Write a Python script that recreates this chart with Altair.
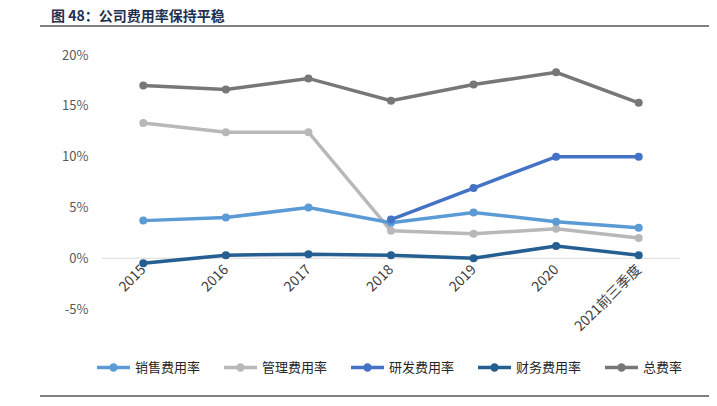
import altair as alt
import pandas as pd

FONT = "Noto Sans CJK SC"

years = ["2015", "2016", "2017", "2018", "2019", "2020", "2021前三季度"]
sales = [3.7, 4.0, 5.0, 3.5, 4.5, 3.6, 3.0]
admin = [13.3, 12.4, 12.4, 2.7, 2.4, 2.9, 2.0]
rd_years = ["2018", "2019", "2020", "2021前三季度"]
rd = [3.8, 6.9, 10.0, 10.0]
fin = [-0.5, 0.3, 0.4, 0.3, 0.0, 1.2, 0.3]
total = [17.0, 16.6, 17.7, 15.5, 17.1, 18.3, 15.3]

series = ["销售费用率", "管理费用率", "研发费用率", "财务费用率", "总费率"]
colors = ["#5B9BD5", "#B8B8B8", "#4472C4", "#255E91", "#777777"]
y_ticks = [-5, 0, 5, 10, 15, 20]
title_text = "图 48：公司费用率保持平稳"
source_text = "资料来源：wind，信达证券研发中心"

rows = []
for name, xs, vals in [
    ("总费率", years, total),
    ("管理费用率", years, admin),
    ("销售费用率", years, sales),
    ("财务费用率", years, fin),
    ("研发费用率", rd_years, rd),
]:
    for yr, v in zip(xs, vals):
        rows.append({"year": yr, "series": name, "value": v})
df = pd.DataFrame(rows)

# plot area spans from just under the header to the -5% level;
# the scale's top is extended so the header strip sits inside it
W, H = 578, 289
Y_MIN, Y_MAX = -5, 23.45

LEGEND_PATH = ("M-1,0 L1,0 "
               "M-0.15,0 A0.15,0.15 0 1,1 0.15,0 A0.15,0.15 0 1,1 -0.15,0 "
               "M-0.05,0 A0.05,0.05 0 1,1 0.05,0 A0.05,0.05 0 1,1 -0.05,0")

x_enc = alt.X(
    "year:N", sort=years,
    scale=alt.Scale(type="point", padding=0.5),
    axis=alt.Axis(title=None, labelAngle=-45, labelAlign="right", labelBaseline="middle",
                  offset=-H * (0 - Y_MIN) / (Y_MAX - Y_MIN), domain=False, ticks=False, grid=False,
                  labelPadding=9, labelFontSize=14, labelColor="#404040", labelFont=FONT),
)
y_enc = alt.Y(
    "value:Q",
    scale=alt.Scale(domain=[Y_MIN, Y_MAX], nice=False, zero=False),
    axis=alt.Axis(title=None, values=y_ticks, labelExpr="datum.value + '%'", domain=False,
                  ticks=False, grid=False, labelPadding=14, labelFontSize=13,
                  labelColor="#595959", labelFont=FONT),
)
color_enc = alt.Color(
    "series:N", sort=series,
    scale=alt.Scale(domain=series, range=colors),
    legend=alt.Legend(title=None, orient="none", legendX=-7, legendY=329, direction="horizontal",
                      columns=5, symbolType=LEGEND_PATH, symbolSize=1089, symbolStrokeWidth=3.5,
                      labelFontSize=13, labelColor="#262626", labelFont=FONT, labelOffset=3,
                      columnPadding=16, labelLimit=0, padding=0),
)

one = pd.DataFrame({"t": [title_text], "s": [source_text]})

zero_rule = alt.Chart(one).mark_rule(color="#D9D9D9", strokeWidth=1).encode(
    y=alt.datum(0), x=alt.value(0), x2=alt.value(W)
)

lines = alt.Chart(df).mark_line(
    strokeWidth=3.5, point=alt.OverlayMarkDef(filled=True, size=64)
).encode(x=x_enc, y=y_enc, color=color_enc)

title = alt.Chart(one).mark_text(
    align="left", baseline="alphabetic", font=FONT, fontSize=14, fontWeight="bold", color="#1F3050"
).encode(text="t:N", x=alt.value(-51), y=alt.value(1))

title_rule = alt.Chart(one).mark_rect(color="#7F7F7F").encode(
    x=alt.value(-62), x2=alt.value(620), y=alt.value(5), y2=alt.value(7)
)

bottom_rule = alt.Chart(one).mark_rect(color="#7F7F7F").encode(
    x=alt.value(-62), x2=alt.value(620), y=alt.value(375), y2=alt.value(377)
)

source = alt.Chart(one).mark_text(
    align="left", baseline="alphabetic", font=FONT, fontSize=12, fontStyle="italic", color="#333333"
).encode(text="s:N", x=alt.value(-60), y=alt.value(389))

chart = alt.layer(zero_rule, lines, title, title_rule, bottom_rule, source).properties(
    width=W, height=H,
    padding={"left": 94, "top": 12, "right": 29, "bottom": 89},
    autosize=alt.AutoSizeParams(type="none"),
).configure_view(stroke=None)

chart.save("out.html", embed_options={"renderer": "svg", "actions": False})
